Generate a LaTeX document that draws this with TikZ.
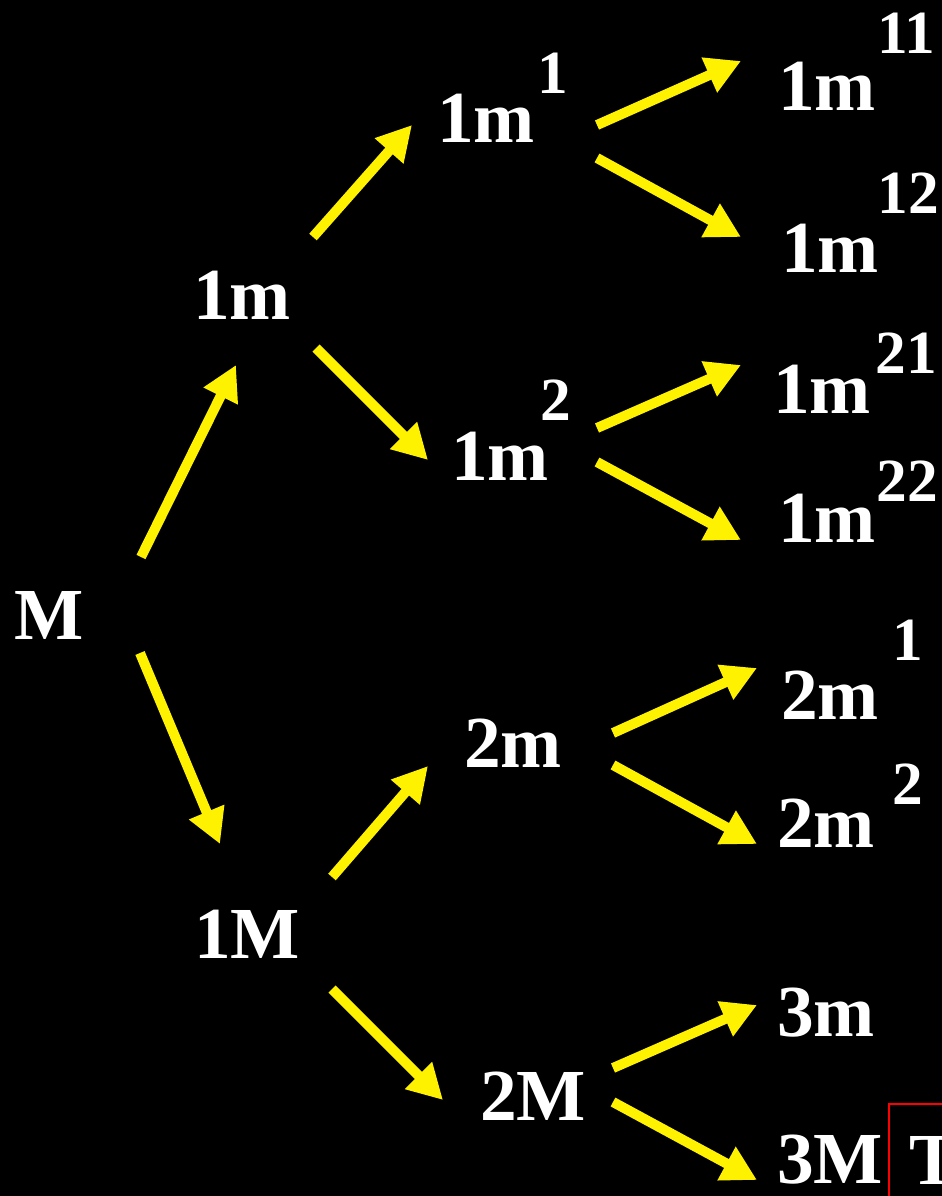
\documentclass[tikz,border=0pt]{standalone}
\usepackage{fontspec}
\setmainfont{Liberation Serif}
\usetikzlibrary{arrows.meta}

\tikzset{
  lbl/.style={text=white, inner sep=0pt, font=\bfseries\fontsize{55}{60}\selectfont},
  sup/.style={text=white, inner sep=0pt, font=\bfseries\fontsize{46}{50}\selectfont},
  arr/.style={draw=yellow, fill=yellow, line width=7.5pt, -{Triangle[length=26pt, width=27pt]}}
}

\begin{document}
\begin{tikzpicture}[x=0.75pt, y=-0.75pt]
        \clip (0,0) rectangle (942,1196);
        \fill[black] (0,0) rectangle (942,1196);
        % root and first level
        \node[lbl] (M) at (49,615) {M};
        \node[lbl] (m1) at (242,295) {1m};
        \node[lbl] (M1) at (247,934) {1M};
        % second level
        \node[lbl] (m1a) at (486,118) {1m};
        \node[sup] (s1a) at (553,73) {1};
        \node[lbl] (m1b) at (500,456) {1m};
        \node[sup] (s1b) at (556,400) {2};
        \node[lbl] (m2) at (513,743) {2m};
        \node[lbl] (M2) at (533,1096) {2M};
        % third level
        \node[lbl] (m11) at (827,86) {1m};
        \node[sup] (s11) at (906,33) {11};
        \node[lbl] (m12) at (830,248) {1m};
        \node[sup] (s12) at (908,193) {12};
        \node[lbl] (m21) at (822,389) {1m};
        \node[sup] (s21) at (906,353) {21};
        \node[lbl] (m22) at (827,518) {1m};
        \node[sup] (s22) at (907,481) {22};
        \node[lbl] (m2a) at (830,695) {2m};
        \node[sup] (s2a) at (908,640) {1};
        \node[lbl] (m2b) at (826,823) {2m};
        \node[sup] (s2b) at (908,784) {2};
        \node[lbl] (m3) at (826,1013) {3m};
        \node[lbl] (M3) at (830,1160) {3M};
        \node[lbl] (T) at (934,1160) {T};
        \draw[red, line width=1.5pt] (889,1104) rectangle (960,1220);
        % arrows
        \draw[arr] ([shift={(92,-58)}]M.center) -- ([shift={(-6,70)}]m1.center);
        \draw[arr] ([shift={(91,38)}]M.center) -- ([shift={(-27,-90)}]M1.center);
        \draw[arr] ([shift={(71,-58)}]m1.center) -- ([shift={(-74,7)}]m1a.center);
        \draw[arr] ([shift={(74,53)}]m1.center) -- ([shift={(-72,4)}]m1b.center);
        \draw[arr] ([shift={(85,-57)}]M1.center) -- ([shift={(-85,23)}]m2.center);
        \draw[arr] ([shift={(85,55)}]M1.center) -- ([shift={(-90,4)}]M2.center);
        \draw[arr] ([shift={(111,7)}]m1a.center) -- ([shift={(-86,-25)}]m11.center);
        \draw[arr] ([shift={(111,40)}]m1a.center) -- ([shift={(-89,-11)}]m12.center);
        \draw[arr] ([shift={(97,-28)}]m1b.center) -- ([shift={(-81,-24)}]m21.center);
        \draw[arr] ([shift={(97,6)}]m1b.center) -- ([shift={(-86,22)}]m22.center);
        \draw[arr] ([shift={(100,-10)}]m2.center) -- ([shift={(-73,-27)}]m2a.center);
        \draw[arr] ([shift={(100,22)}]m2.center) -- ([shift={(-69,21)}]m2b.center);
        \draw[arr] ([shift={(80,-28)}]M2.center) -- ([shift={(-69,-8)}]m3.center);
        \draw[arr] ([shift={(80,6)}]M2.center) -- ([shift={(-73,20)}]M3.center);
    \end{tikzpicture}
\end{document}
